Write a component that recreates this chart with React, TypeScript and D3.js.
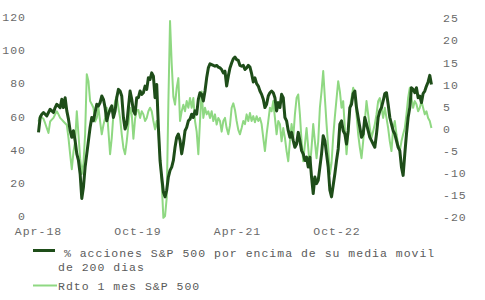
import React from "react";
import * as d3 from "d3";

// Sampling grid: one observation roughly every 9.17 days starting Apr-2018
const startDate = new Date(2018, 3, 1);
const stepDays = 9.17;

// % of S&P 500 stocks above their 200-day moving average (left axis)
const pctAbove200: number[] = [
  51, 60, 62, 63, 62, 61, 63, 65, 64, 63,
  66, 68, 67, 66, 71, 66, 72, 64, 59, 52,
  48, 52, 46, 38, 34, 26, 11, 18, 30, 38,
  46, 54, 60, 58, 63, 68, 67, 69, 73, 71,
  66, 58, 62, 65, 67, 60, 64, 72, 77, 76,
  73, 60, 53, 56, 66, 76, 71, 64, 62, 72,
  72, 76, 74, 75, 79, 77, 84, 83, 87, 85,
  72, 80, 54, 34, 24, 15, 12, 16, 24, 28,
  30, 34, 42, 48, 50, 46, 38, 44, 52, 54,
  58, 59, 62, 60, 64, 62, 71, 75, 74, 70,
  76, 84, 90, 92.5, 92, 91.5, 91, 91.5, 90.5, 90,
  89, 87, 88, 79, 85, 90, 93, 95.5, 96.5, 95,
  94.5, 91.5, 91, 91.5, 89, 90, 91.5, 90.5, 86.5, 81.5,
  84, 80.5, 79, 76, 74, 71, 66, 68, 73, 75,
  76, 75, 72, 64, 69, 66, 74, 72, 60, 58,
  52, 48, 51, 46, 42, 44, 51, 46, 40, 38,
  34, 36, 30, 36, 24, 14, 24, 20, 22, 30,
  38, 49, 46, 38, 30, 16, 12, 19, 26, 34,
  41, 56, 58, 52, 50, 44, 52, 66, 68, 74.5,
  76, 66, 60, 54, 48, 50, 60, 56, 52, 48,
  46, 44, 42, 50, 60, 64, 66, 70, 74.5, 75,
  68, 60, 56, 52, 50, 46, 42, 40, 30, 25,
  38, 50, 60, 66, 78, 77, 75, 78, 72, 73,
  69, 74.5, 76, 79, 81.5, 85.5, 80,
];

// 1-month return of the S&P 500, % (right axis)
const ret1m: number[] = [
  1.9, 3.1, 2.8, 2.5, 1.5, 0.4, -0.7, 1.9, 2.3, 2.7,
  3.5, 4.2, 3.5, 2.7, 2.3, 1.9, 1.5, 1.1, -1.8, -5.5,
  -8.9, -5, -2.6, 4.2, -1, -6.4, -10, -7.6, -1, 12.6,
  11, 6.5, 5.8, 5, 1.9, 2.7, 5, 1.9, -1, 1.1,
  2.7, 5, -0.3, -5.5, -1.8, 3.5, 6.5, 7.6, 5, 2.7,
  -1, -4.1, -5.5, -2.6, 1.1, 5, 3.5, -2, 2.5, 4.5,
  4.5, 2.7, 4.2, 3.5, 2, 2.7, 4.2, 5, 4.2, 2,
  0.1, 2, -0.4, -6, -12, -19.9, -19.5, -15.4, 6, 24.6,
  15, 7.5, 5.7, 9.5, 11.7, 2, 4.2, 5.7, 4.2, 6.5,
  5, 7.2, 5, 7.2, 2, -0.4, -5.5, 2, 8.7, 2.7,
  5, 3.5, 4.2, 2.7, 4.2, 2, 3.5, 1.2, 2.7, 2,
  -0.4, 2, 2.7, 0.4, -1, 1, 5, 6, 4.5, 2,
  0, -1, 0.4, 2, 1.3, 3.5, 2, 3.8, 2, 3.1,
  1.7, 3.1, 2, 2.7, 1.3, -1.8, -4.8, -1, 2, 5,
  4.2, 6.5, 2.7, -1, 2, 1.3, -2.6, 0.4, -1.8, -4.8,
  -7.1, -2.6, 1.3, -1.8, 3.5, 7.2, 8, 3.5, -2.6, -7.1,
  -3.3, 0.4, -4, -8.6, -4, 1.3, -2.6, -6.4, -2.6, 5,
  8.7, 13.3, 7.2, 1.3, -4, -10, -7.5, -1.5, 3, 7,
  11, 8.7, 5, 6.5, 0.4, -5.5, -1, 5, 7.2, 9.5,
  8, 3.5, -1, -4, -6.4, -2.6, 2, 6.5, 3.5, 0.4,
  -1.8, -0.3, 1.3, 3.5, 6.5, 7.2, 5, 2.7, 5, 2.7,
  0.4, -2.6, -4.8, 0.4, 2, -1, -3.3, -4.8, -2.6, -1,
  0.4, 3.5, 7.2, 9.5, 7.2, 5, 6.5, 5.8, 4.2, 5,
  6.5, 5, 3.5, 4.2, 2.7, 2, 0.4,
];

const leftTicks = [0, 20, 40, 60, 80, 100, 120];
const rightTicks = [-20, -15, -10, -5, 0, 5, 10, 15, 20, 25];
const xTickDates = [
  new Date(2018, 3, 1),
  new Date(2019, 9, 1),
  new Date(2021, 3, 1),
  new Date(2022, 9, 1),
];
const legendLabels = [
  [" % acciones S&P 500 por encima de su media movil", "de 200 dias"],
  ["Rdto 1 mes S&P 500"],
];

const DARK = "#1e4d19";
const LIGHT = "#8fd882";
const FONT = "'Liberation Mono', 'DejaVu Sans Mono', monospace";

export default function App() {
  const dateAt = (i: number) => new Date(startDate.getTime() + i * stepDays * 864e5);

  const x = d3
    .scaleTime()
    .domain([xTickDates[0], xTickDates[3]])
    .range([38.5, 337]);
  const yL = d3.scaleLinear().domain([0, 120]).range([216.7, 18.3]);
  const yR = d3.scaleLinear().domain([-20, 25]).range([218.3, 19.3]);

  const darkLine = d3
    .line<number>()
    .x((_, i) => x(dateAt(i)))
    .y((d) => yL(d));
  const lightLine = d3
    .line<number>()
    .x((_, i) => x(dateAt(i)))
    .y((d) => yR(d));
  const fmt = d3.timeFormat("%b-%y");

  const textStyle = { fontFamily: FONT, fontSize: 11.5, letterSpacing: 1.0 } as const;

  return (
    <svg
      width={485}
      height={300}
      style={{ position: "absolute", left: 0, top: 0, background: "#fff" }}
    >
      <rect width={485} height={300} fill="#fff" />
      {leftTicks.map((t) => (
        <text key={"l" + t} x={26} y={yL(t)} textAnchor="end" dominantBaseline="middle" fill="#6a6a6a" style={textStyle}>
          {t}
        </text>
      ))}
      {rightTicks.map((t) => (
        <text key={"r" + t} x={443} y={yR(t)} dominantBaseline="middle" fill="#6a6a6a" style={textStyle}>
          {t}
        </text>
      ))}
      {xTickDates.map((d) => (
        <text key={+d} x={x(d)} y={235} textAnchor="middle" fill="#6a6a6a" style={textStyle}>
          {fmt(d)}
        </text>
      ))}
      <path d={lightLine(ret1m) || ""} fill="none" stroke={LIGHT} strokeWidth={2} strokeLinejoin="round" />
      <path d={darkLine(pctAbove200) || ""} fill="none" stroke={DARK} strokeWidth={3} strokeLinejoin="round" />

      <line x1={33} x2={55} y1={250.5} y2={250.5} stroke={DARK} strokeWidth={3} />
      <text x={56} y={256.5} fill="#5a5a5a" style={textStyle} xmlSpace="preserve">
        {legendLabels[0][0]}
      </text>
      <text x={58} y={270.5} fill="#5a5a5a" style={textStyle}>
        {legendLabels[0][1]}
      </text>
      <line x1={33} x2={57} y1={285.5} y2={285.5} stroke={LIGHT} strokeWidth={2} />
      <text x={58} y={290} fill="#5a5a5a" style={textStyle}>
        {legendLabels[1][0]}
      </text>
    </svg>
  );
}
